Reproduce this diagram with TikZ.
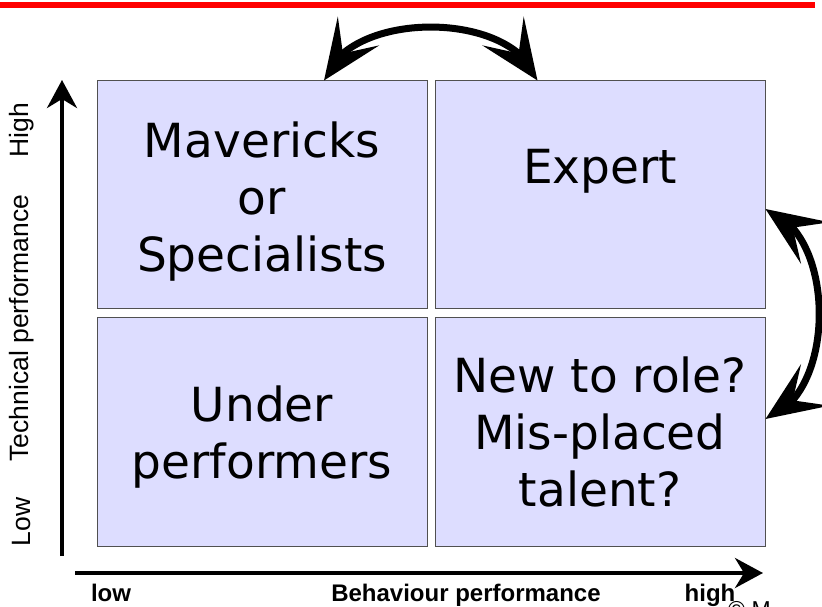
\documentclass[tikz,border=0pt]{standalone}
\usepackage{fontspec}
\setmainfont{DejaVu Sans}
\newfontfamily\axisfont{Liberation Sans}
\usetikzlibrary{positioning, arrows.meta, bending}
\definecolor{quadfill}{RGB}{221,221,255}
\definecolor{quadline}{RGB}{80,80,80}
\tikzstyle{quadrant} = [draw=quadline, line width=1pt, fill=quadfill, minimum width=330pt, minimum height=228pt, inner sep=0pt, align=center, font=\fontsize{47}{57}\selectfont]
\tikzstyle{axislabel} = [font=\axisfont\fontsize{26.5}{30}\selectfont, inner sep=0pt, rotate=90]
\tikzstyle{scalelabel} = [font=\axisfont\bfseries\fontsize{24}{28}\selectfont, inner sep=0pt, anchor=base]
\tikzstyle{axisline} = [line width=4pt, -{Stealth[length=28pt, width=30pt, inset=9pt]}]
\tikzstyle{swaparrow} = [line width=7pt, {Stealth[length=60pt, width=50pt, inset=27pt]}-{Stealth[length=60pt, width=50pt, inset=27pt]}]

\begin{document}
\begin{tikzpicture}[x=1pt, y=1pt]
    \useasboundingbox (0,0) rectangle (822,606);
    \draw[red, line width=6pt] (0,600.5) -- (815,600.5);

    \node[quadrant] (mav) at (262,411) {\rule{0pt}{48pt}Mavericks\\or\\Specialists};
    \node[quadrant, right=7pt of mav] (expert) {Expert\\\mbox{}};
    \node[quadrant, below=8pt of mav] (under) {\rule{0pt}{46pt}Under\\performers};
    \node[quadrant, below=8pt of expert] (newrole) {New to role?\\Mis-placed\\talent?};

    \coordinate (yfoot) at (62,50);
    \coordinate (yhead) at (62,526);
    \coordinate (xfoot) at (75,33);
    \coordinate (xhead) at (763,33);
    \draw[axisline] (yfoot) -- (yhead);
    \draw[axisline] (xfoot) -- (xhead);

    \node[axislabel] (high) at (22,476) {High};
    \node[axislabel] (tech) at (22,278) {Technical performance};
    \node[axislabel] (low) at (22,84) {Low};
    \node[scalelabel] (xlow) at (111,5) {low};
    \node[scalelabel] (behav) at (466,5) {Behaviour performance};
    \node[scalelabel] (xhigh) at (710,5) {high};
    \node[font=\axisfont\fontsize{23}{26}\selectfont, anchor=base west, inner sep=0pt] (copy) at (728,-11.5) {© M};

    \draw[swaparrow] ([xshift=62pt]mav.north) to[out=72, in=108, looseness=0.9] ([xshift=-62.5pt]expert.north);
    \draw[swaparrow] ([yshift=-14pt]expert.east) to[out=-18, in=18, looseness=0.92] ([yshift=13pt]newrole.east);
\end{tikzpicture}
\end{document}
